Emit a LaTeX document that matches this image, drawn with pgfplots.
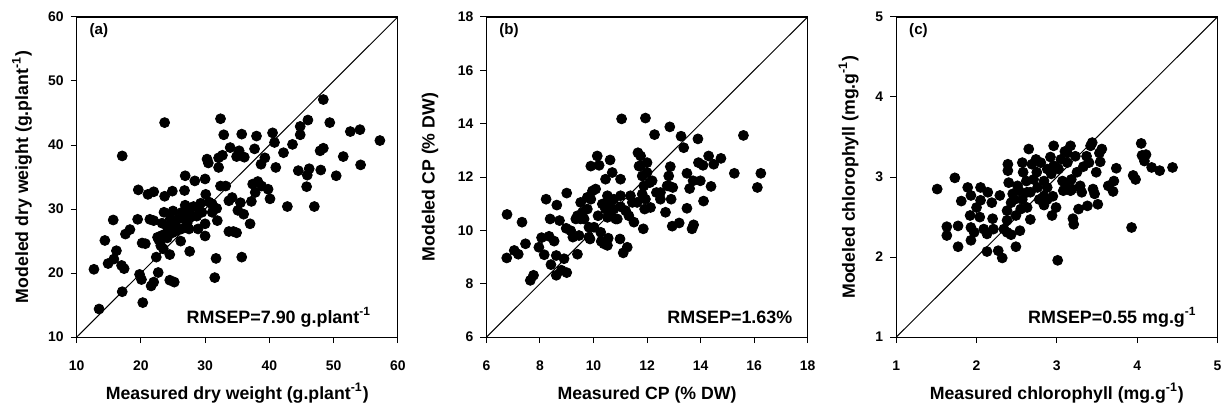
\documentclass[border=0pt]{standalone}
\usepackage{pgfplots}
\pgfplotsset{compat=1.18}
\usepgfplotslibrary{groupplots}
\usetikzlibrary{calc}
\usepackage{fontspec}
\setmainfont{Liberation Sans}

\pgfplotsset{
  dots/.style={only marks, mark=*, mark size=2.5pt, mark options={black, fill=black}},
  oneone/.style={no marks, sharp plot, black, line width=0.5pt},
}
\newcommand{\panel}[1]{\node[anchor=base west, font=\bfseries\fontsize{7.6}{8}\selectfont, xshift=3pt, yshift=-9pt] at (rel axis cs:0,1) {#1};}
\newcommand{\rmsep}[2]{\node[anchor=base east, font=\bfseries\fontsize{9}{10}\selectfont, xshift=#2, yshift=7pt] at (rel axis cs:1,0) {#1};}

\begin{document}
\begin{tikzpicture}
\begin{groupplot}[
  group style={group size=3 by 1, horizontal sep=44.5pt, group name=g},
  scale only axis, width=161.5pt, height=161pt,
  axis line style={line width=0.6pt},
  tick align=outside, tick pos=left, major tick length=3pt,
  tick style={line width=0.5pt, black},
  ticklabel style={font=\bfseries\fontsize{7}{8}\selectfont},
  xticklabel style={yshift=-5.5pt},
  /pgf/number format/assume math mode=true,
  label style={font=\bfseries\fontsize{8.9}{10}\selectfont},
  xlabel style={at={(axis description cs:0.5,0)}, anchor=base, yshift=-31.3pt},
]
% (a) dry weight
\nextgroupplot[xmin=10, xmax=60, ymin=10, ymax=60, xtick={10,20,...,60}, ytick={10,20,...,60},
  xlabel={Measured dry weight (g.plant\textsuperscript{-1})},
  ylabel={Modeled dry weight (g.plant\textsuperscript{-1})},
  ylabel style={at={(axis description cs:0,0.5)}, anchor=base, yshift=24.3pt}]
\addplot[oneone] coordinates {(10,10) (60,60)};
\addplot[dots] coordinates {
(12.7,20.6) (13.5,14.4) (14.4,25.1) (14.9,21.5) (15.7,28.3) (15.8,22.2) (16.2,23.5)
(17.1,38.3) (17.1,17.1) (17.0,21.2) (17.4,20.7) (17.6,26.1) (18.3,26.8) (19.6,33.0)
(19.5,28.4) (19.8,19.8) (20.1,19.0) (20.2,24.7) (20.7,24.6) (20.3,15.4) (21.1,32.3)
(22.0,32.7) (21.4,28.4) (22.0,28.2) (21.6,18.0) (22.0,18.6) (22.4,22.5) (22.7,20.1)
(23.7,43.5) (23.7,32.0) (23.3,27.8) (23.6,29.5) (22.8,25.2) (23.3,25.9) (23.1,24.3)
(23.5,23.8) (24.1,25.5) (24.5,22.9) (24.5,18.9) (25.2,18.6) (24.9,32.8) (25.0,29.7)
(24.6,28.5) (25.3,27.7) (25.5,26.6) (26.2,25.0) (26.9,35.2) (26.8,32.9) (26.9,30.6)
(26.9,29.1) (26.7,28.5) (27.5,26.9) (27.6,23.4) (27.7,30.1) (28.4,34.4) (28.0,28.9)
(28.9,26.9) (29.0,30.1) (29.3,30.9) (30.0,34.7) (30.3,37.8) (30.5,37.2) (30.1,32.3)
(30.0,27.7) (30.0,25.8) (30.6,31.1) (31.1,30.8) (31.5,19.3) (31.7,22.3) (31.8,30.1)
(31.9,28.2) (32.1,36.5) (32.1,38.0) (32.4,44.1) (32.7,38.4) (32.9,41.6) (32.4,33.6)
(33.2,33.6) (33.7,31.3) (33.7,26.5) (34.4,26.5) (34.9,26.3) (33.9,39.6) (34.2,31.8)
(35.1,29.8) (35.3,39.1) (34.9,38.2) (35.7,41.7) (35.7,22.5) (35.5,31.0) (36.0,29.2)
(36.1,38.1) (37.0,27.7) (37.2,31.2) (37.4,33.9) (37.7,39.4) (38.0,41.4) (38.2,34.3)
(37.8,32.6) (38.7,37.0) (38.8,33.6) (39.3,38.0) (39.8,33.1) (40.1,31.6) (40.5,41.9)
(40.8,40.4) (41.0,36.5) (42.2,38.8) (42.8,30.4) (43.6,40.1) (44.8,42.9) (44.8,41.6)
(44.5,36.0) (45.8,33.5) (45.9,35.3) (46.2,36.3) (46.0,43.9) (47.0,30.4) (47.9,39.1)
(48.4,39.5) (48.0,36.1) (48.4,47.1) (49.4,43.5) (50.4,35.2) (51.5,38.2) (52.6,42.1)
(54.1,42.4) (54.2,36.9) (57.2,40.7)
(25.9,28.5) (26.3,26.9) (27.2,27.8) (28.2,30.4) (28.7,28.9) (31.1,29.5) (24.9,26.3)
(23.8,26.0) (22.6,25.6) (24.1,27.2) (26.4,29.5) (29.5,29.5)
};
\panel{(a)}
\rmsep{RMSEP=7.90 g.plant\textsuperscript{-1}}{-10pt}

% (b) crude protein
\nextgroupplot[xmin=6, xmax=18, ymin=6, ymax=18, xtick={6,8,...,18}, ytick={6,8,...,18},
  xlabel={Measured CP (\% DW)},
  ylabel={Modeled CP (\% DW)},
  ylabel style={at={(axis description cs:0,0.5)}, anchor=base, yshift=26pt}]
\addplot[oneone] coordinates {(6,6) (18,18)};
\addplot[dots] coordinates {
(6.76,8.97) (6.77,10.60) (7.04,9.25) (7.19,9.11) (7.33,10.31) (7.46,9.50) (7.64,8.13)
(7.76,8.32) (7.96,9.37) (8.06,9.73) (8.16,9.09) (8.23,11.17) (8.34,9.78) (8.41,8.72)
(8.38,10.43) (8.53,9.60) (8.63,10.95) (8.61,9.06) (8.61,8.32) (8.73,10.37) (8.80,8.51)
(8.90,8.94) (9.00,8.42) (9.00,11.40) (8.98,10.08) (9.15,9.99) (9.23,9.75) (9.40,9.11)
(9.46,9.81) (9.34,10.43) (9.52,11.05) (9.59,10.68) (9.65,10.43) (9.77,11.24) (9.83,10.12)
(9.87,9.68) (9.90,12.41) (9.96,11.48) (10.08,11.55) (10.14,12.79) (10.21,12.44) (10.17,10.55)
(10.27,9.93) (10.29,9.59) (10.39,9.50) (10.52,9.44) (10.55,9.71) (10.45,11.92) (10.62,12.64)
(10.70,12.17) (10.58,11.05) (10.64,10.55) (10.76,10.80) (10.89,10.43) (11.01,11.92) (10.99,9.68)
(11.05,14.18) (11.11,9.16) (11.26,9.37) (11.32,10.55) (11.01,11.30) (11.38,11.30) (11.51,10.31)
(11.45,11.05) (11.66,12.91) (11.76,12.41) (11.82,12.04) (11.88,11.67) (11.94,14.21) (11.86,10.06)
(11.91,10.80) (12.00,12.17) (12.13,10.86) (12.19,11.86) (12.28,13.59) (12.35,11.42) (12.50,11.17)
(12.69,10.68) (12.75,11.67) (12.81,12.04) (12.85,13.88) (12.87,12.39) (12.90,11.17) (12.94,10.16)
(12.96,11.61) (13.20,10.28) (13.27,13.53) (13.37,13.10) (13.49,12.14) (13.49,10.83) (13.59,11.57)
(13.68,10.06) (13.74,10.21) (13.72,11.86) (13.90,13.43) (13.92,12.54) (13.99,11.86) (14.09,12.44)
(14.11,11.10) (14.30,12.79) (14.39,11.65) (14.49,12.48) (14.76,12.70) (15.26,12.14) (15.60,13.56)
(16.12,11.61) (16.25,12.14)
(11.76,12.79) (11.70,12.41) (11.82,11.36) (11.94,11.17) (11.63,11.05) (12.00,12.54) (12.10,11.79)
(10.52,11.30) (10.76,11.17) (10.83,10.43) (10.45,10.80) (10.33,10.99) (9.90,11.17) (9.77,10.80)
(10.02,10.12) (9.83,9.75) (9.40,10.55) (9.52,10.43) (12.50,11.42) (12.81,11.67) (11.01,10.89)
(11.20,10.74) (10.52,10.49)
};
\panel{(b)}
\rmsep{RMSEP=1.63\%}{-4.2pt}

% (c) chlorophyll
\nextgroupplot[xmin=1, xmax=5, ymin=1, ymax=5, xtick={1,...,5}, ytick={1,...,5},
  xlabel={Measured chlorophyll (mg.g\textsuperscript{-1})},
  ylabel={Modeled chlorophyll (mg.g\textsuperscript{-1})},
  ylabel style={at={(axis description cs:0,0.5)}, anchor=base, yshift=20.8pt}]
\addplot[oneone] coordinates {(1,1) (5,5)};
\addplot[dots] coordinates {
(1.51,2.85) (1.63,2.38) (1.63,2.27) (1.73,2.99) (1.77,2.39) (1.77,2.13) (1.81,2.70)
(1.89,2.87) (1.92,2.52) (1.93,2.37) (1.93,2.21) (1.93,2.77) (1.97,2.31) (2.00,2.62)
(2.04,2.50) (2.05,2.87) (2.05,2.71) (2.09,2.35) (2.13,2.07) (2.13,2.29) (2.14,2.81)
(2.19,2.68) (2.20,2.48) (2.21,2.35) (2.27,2.08) (2.29,2.77) (2.32,1.99) (2.34,2.35)
(2.38,2.31) (2.38,2.46) (2.38,2.58) (2.39,3.16) (2.39,3.08) (2.40,2.93) (2.43,2.68)
(2.43,2.28) (2.49,2.13) (2.49,2.52) (2.51,2.89) (2.54,2.33) (2.55,2.60) (2.57,3.18)
(2.58,3.06) (2.57,2.72) (2.62,2.95) (2.63,2.62) (2.65,3.35) (2.67,2.47) (2.67,2.81)
(2.69,3.16) (2.74,3.22) (2.75,3.06) (2.76,2.87) (2.78,2.72) (2.80,3.18) (2.84,2.95)
(2.84,2.65) (2.88,2.87) (2.92,3.25) (2.93,3.04) (2.94,2.52) (2.95,2.76) (2.96,3.39)
(2.99,2.62) (3.01,1.96) (3.02,3.10) (3.07,2.95) (3.10,3.32) (3.11,2.89) (3.13,3.18)
(3.17,3.39) (3.18,2.97) (3.19,2.85) (3.20,2.48) (3.21,2.41) (3.23,3.26) (3.25,3.06)
(3.27,2.60) (3.29,2.89) (3.31,2.81) (3.38,2.64) (3.40,3.18) (3.42,3.39) (3.44,3.43)
(3.45,2.85) (3.47,2.79) (3.49,3.06) (3.51,2.66) (3.53,3.30) (3.54,3.19) (3.56,3.35)
(3.64,2.89) (3.70,2.82) (3.71,2.95) (3.74,3.11) (3.93,2.37) (3.95,3.02) (3.98,2.97)
(4.05,3.42) (4.06,3.27) (4.09,3.20) (4.11,3.28) (4.18,3.12) (4.28,3.08) (4.44,3.12)
(2.47,2.72) (2.53,2.83) (2.71,2.97) (2.88,3.10) (2.96,3.14) (3.05,3.22) (3.13,3.30)
(3.08,2.83) (3.17,2.83) (2.88,2.72) (2.84,2.76) (2.63,2.81) (2.45,2.79) (3.33,3.13)
(3.37,3.26)
};
\panel{(c)}
\rmsep{RMSEP=0.55 mg.g\textsuperscript{-1}}{-7pt}
\end{groupplot}
\path ($(g c1r1.south west)+(-38.5pt,-36pt)$) rectangle ($(g c3r1.north east)+(3pt,8.5pt)$);
\end{tikzpicture}
\end{document}
